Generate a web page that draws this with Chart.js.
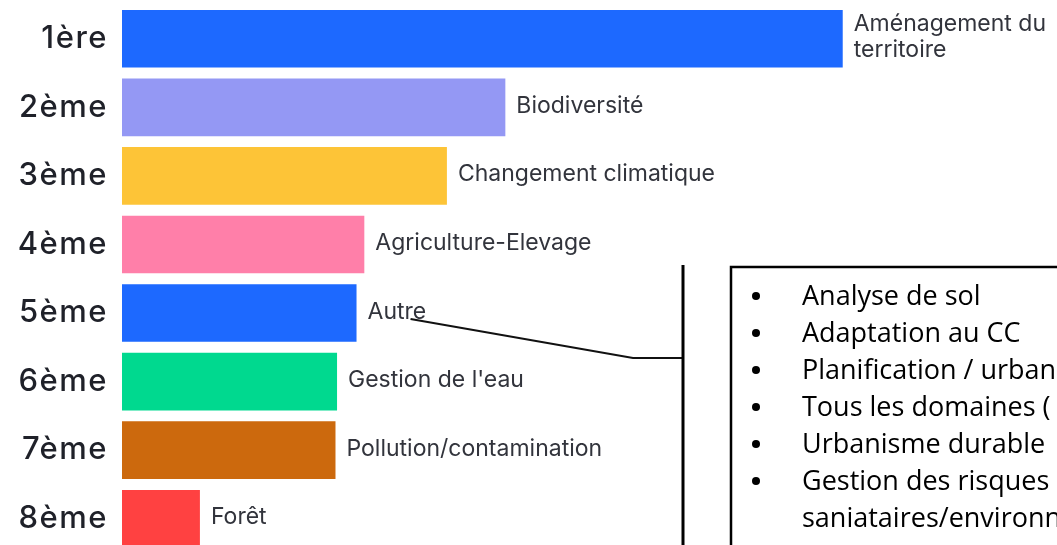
<!DOCTYPE html>
<html>
<head>
<meta charset="utf-8">
<script src="https://cdn.jsdelivr.net/npm/chart.js@4.4.1/dist/chart.umd.min.js"></script>
<style>
  html, body { margin: 0; padding: 0; background: #ffffff; overflow: hidden; width: 1057px; height: 545px; }
  #c { display: block; width: 1057px; height: 553px; }
</style>
</head>
<body>
<canvas id="c" width="1057" height="553"></canvas>
<script>
// ---- data ----
const ranks = ['1ère', '2ème', '3ème', '4ème', '5ème', '6ème', '7ème', '8ème'];
const topics = ['Aménagement du territoire', 'Biodiversité', 'Changement climatique', 'Agriculture-Elevage',
                'Autre', "Gestion de l'eau", 'Pollution/contamination', 'Forêt'];
const scores = [9.25, 4.92, 4.17, 3.11, 3.01, 2.76, 2.74, 1.00];
const barColors = ['#1d69ff', '#9498f4', '#fdc437', '#ff7fa9', '#1d69ff', '#00d98f', '#cc690d', '#ff4141'];
const otherAnswers = ['Analyse de sol', 'Adaptation au CC', 'Planification / urbanisme',
                      'Tous les domaines (', 'Urbanisme durable', 'Gestion des risques', 'saniataires/environnementaux'];
const otherIndex = 4;

// letter spacing for the rank labels only
const spacingPlugin = {
  id: 'spacing',
  beforeDraw(chart) { chart.ctx.letterSpacing = '1.5px'; },
  beforeDatasetsDraw(chart) { chart.ctx.letterSpacing = '0px'; }
};

const barLabels = {
  id: 'barLabels',
  afterDatasetsDraw(chart) {
    const ctx = chart.ctx;
    const meta = chart.getDatasetMeta(0);
    ctx.save();
    ctx.letterSpacing = '0px';
    ctx.font = '400 23px Inter';
    ctx.fillStyle = '#32343c';
    ctx.textAlign = 'left';
    ctx.textBaseline = 'alphabetic';
    const lh = 26;
    meta.data.forEach((bar, i) => {
      const x = bar.x + 11;
      const avail = chart.width - x - 2;
      const words = topics[i].split(' ');
      const lines = [];
      let cur = '';
      words.forEach(w => {
        const t = cur ? cur + ' ' + w : w;
        if (cur && ctx.measureText(t).width > avail) { lines.push(cur); cur = w; }
        else cur = t;
      });
      lines.push(cur);
      const n = lines.length;
      const y0 = n === 1 ? bar.y + 5.5 : bar.y + 5.5 - (n - 1) * lh / 2;
      lines.forEach((l, k) => ctx.fillText(l, x, y0 + k * lh));
    });
    ctx.restore();
  }
};

const callout = {
  id: 'callout',
  afterDraw(chart) {
    const ctx = chart.ctx;
    const bar = chart.getDatasetMeta(0).data[otherIndex];
    ctx.save();
    ctx.letterSpacing = '0px';
    // connector
    const sx = bar.x + 54, sy = bar.y + 6;
    ctx.strokeStyle = '#111111';
    ctx.lineWidth = 2;
    ctx.beginPath();
    ctx.moveTo(sx, sy);
    ctx.lineTo(633, 358);
    ctx.lineTo(683, 358);
    ctx.stroke();
    ctx.lineWidth = 3;
    ctx.strokeStyle = '#000000';
    ctx.beginPath();
    ctx.moveTo(683, 265);
    ctx.lineTo(683, 560);
    ctx.stroke();
    // box
    ctx.lineWidth = 2.5;
    ctx.strokeRect(731, 267, 400, 400);
    // text
    ctx.fillStyle = '#000000';
    ctx.font = '400 27px "Open Sans"';
    ctx.textBaseline = 'alphabetic';
    const base = 305, step = 37;
    otherAnswers.forEach((t, k) => {
      const y = base + k * step;
      const isCont = k === otherAnswers.length - 1;
      if (!isCont) {
        ctx.beginPath();
        ctx.arc(756, y - 9, 4, 0, Math.PI * 2);
        ctx.fill();
      }
      ctx.fillText(t, 802, y);
    });
    ctx.restore();
  }
};

new Chart(document.getElementById('c'), {
  type: 'bar',
  data: {
    labels: ranks,
    datasets: [{
      data: scores,
      backgroundColor: barColors,
      borderWidth: 0,
      barPercentage: 0.84,
      categoryPercentage: 1.0
    }]
  },
  options: {
    indexAxis: 'y',
    responsive: false,
    maintainAspectRatio: false,
    devicePixelRatio: 1,
    animation: false,
    layout: { padding: { top: 4.5, bottom: 0, left: 0, right: 0 } },
    plugins: { legend: { display: false }, tooltip: { enabled: false } },
    scales: {
      x: { type: 'linear', min: 0, max: 12, display: false, grid: { display: false } },
      y: {
        type: 'category',
        grid: { display: false },
        border: { display: false },
        ticks: {
          color: '#1f2129',
          padding: 6,
          font: { family: 'Inter', size: 31, weight: '500' }
        },
        afterFit(scale) { scale.width = 122; scale.paddingTop = 0; scale.paddingBottom = 0; }
      }
    }
  },
  plugins: [spacingPlugin, barLabels, callout]
});
</script>
</body>
</html>
